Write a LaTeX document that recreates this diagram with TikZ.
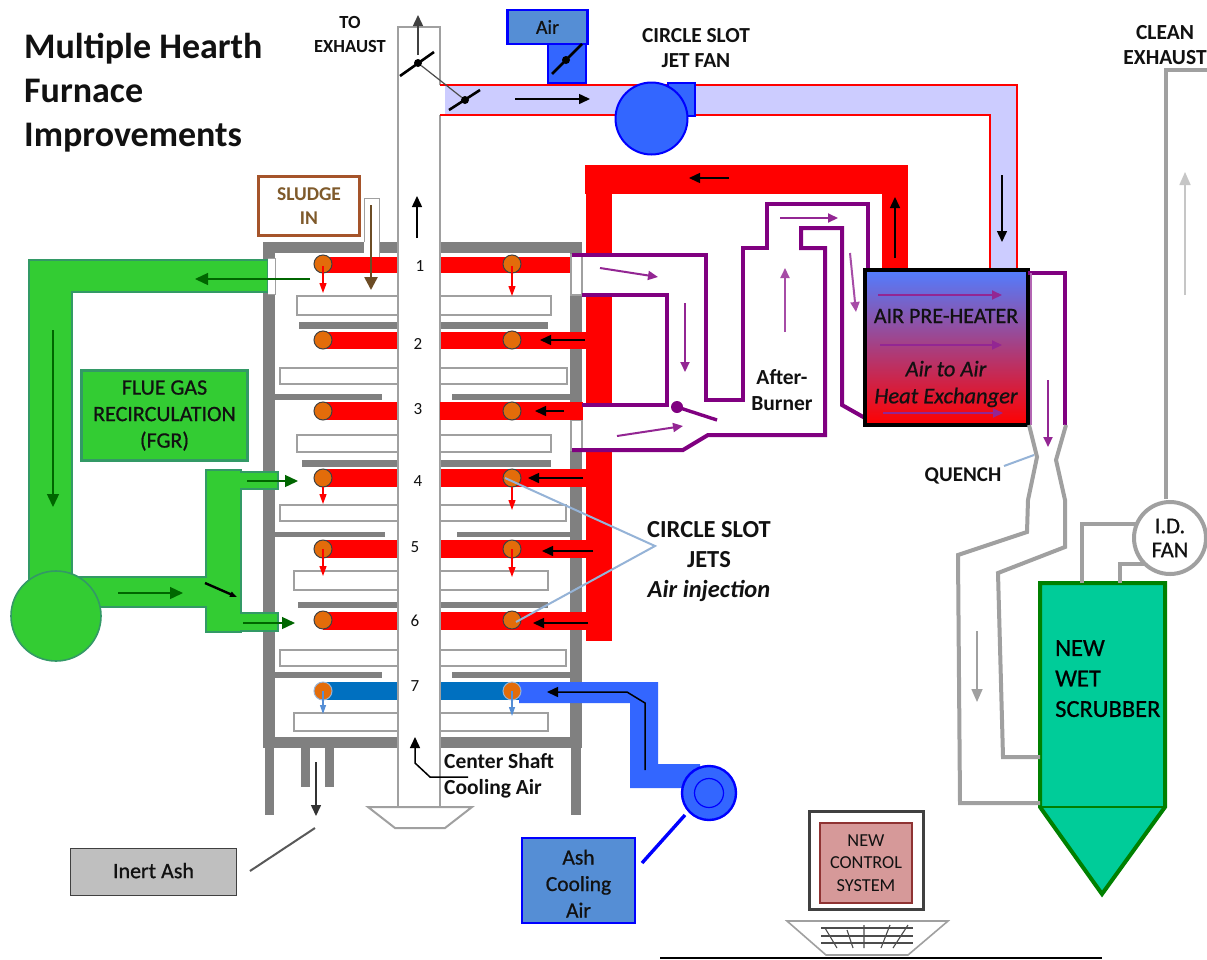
\documentclass[tikz,border=0pt]{standalone}
\usepackage{fontspec}
\setmainfont{Carlito}
\newcommand{\semi}{\addfontfeature{FakeBold=0.7}}
\usetikzlibrary{arrows.meta}
\definecolor{wallgray}{HTML}{808080}
\definecolor{linegray}{HTML}{A0A0A0}
\definecolor{fire}{HTML}{FF0000}
\definecolor{lav}{HTML}{CCCCFF}
\definecolor{purp}{HTML}{800080}
\definecolor{fgr}{HTML}{33CC33}
\definecolor{fgrb}{HTML}{339966}
\definecolor{dgreen}{HTML}{006600}
\definecolor{brightblue}{HTML}{3366FF}
\definecolor{puregblue}{HTML}{0000FF}
\definecolor{boxblue}{HTML}{558ED5}
\definecolor{hearthblue}{HTML}{0070C0}
\definecolor{jet}{HTML}{E36C0A}
\definecolor{leader}{HTML}{95B3D7}
\definecolor{scrub}{HTML}{00CC99}
\definecolor{sgreen}{HTML}{008000}
\definecolor{brownb}{HTML}{A5542A}
\definecolor{brownt}{HTML}{7F5A2B}
\definecolor{ink}{HTML}{111111}
\tikzset{
  wall/.style={fill=wallgray,draw=none},
  plate/.style={fill=white,draw=linegray,line width=1.2pt},
  jetdot/.style={circle,fill=jet,draw=black!75,line width=1pt,minimum size=18pt,inner sep=0pt},
  bk/.style={-{Triangle[length=11pt,width=10pt]},line width=1.5pt,draw=black},
  rd/.style={-{Triangle[length=10pt,width=7pt]},line width=1.2pt,draw=red},
  bl/.style={-{Triangle[length=9pt,width=6pt]},line width=1.2pt,draw=boxblue},
  gr/.style={-{Triangle[length=13pt,width=12pt]},line width=1.4pt,draw=dgreen},
  pu/.style={-{Triangle[length=10pt,width=9pt]},line width=2pt,draw=purp!85},
  pipe/.style={draw=purp,line width=4pt,line join=miter},
  gpipe/.style={draw=linegray,line width=4pt,line join=miter},
  greenduct/.style={fill=fgr,draw=fgrb,line width=1.6pt},
  bluebox/.style={draw=puregblue,line width=2.8pt,fill=boxblue,inner sep=0pt},
  damper/.style={line width=2.6pt,draw=black},
  hub/.style={circle,fill=black,inner sep=0pt,minimum size=8pt},
  lbl/.style={text=ink,align=center,inner sep=0pt},
  lead/.style={draw=leader,line width=2pt}
}
\newcommand{\fsz}[2]{\fontsize{#1}{#2}\selectfont}
\begin{document}
\begin{tikzpicture}[x=1pt,y=-1pt]
\useasboundingbox (0,0) rectangle (1207,959);
\fill[white] (0,0) rectangle (1207,959);

% --- furnace shell
\fill[wall] (263,242) rectangle (582,253);
\fill[wall] (263,242) rectangle (275,748);
\fill[wall] (570,242) rectangle (582,748);
\fill[wall] (263,737) rectangle (582,748);
\fill[wall] (265,748) rectangle (274,815);
\fill[wall] (571,748) rectangle (581,815);
\fill[wall] (301,748) rectangle (310,787);
\fill[wall] (325,748) rectangle (334,787);
% --- baffles
\fill[wall] (299,322) rectangle (548,329);
\fill[wall] (275,394) rectangle (382,400);
\fill[wall] (452,394) rectangle (570,400);
\fill[wall] (302,460) rectangle (551,467);
\fill[wall] (275,532) rectangle (385,537);
\fill[wall] (457,532) rectangle (570,537);
\fill[wall] (298,602) rectangle (548,608);
\fill[wall] (275,672) rectangle (382,678);
\fill[wall] (452,672) rectangle (570,678);
% --- hearth plates
\draw[plate] (297,296) rectangle (551,315);
\draw[plate] (280,368) rectangle (567,384);
\draw[plate] (297,435) rectangle (551,452);
\draw[plate] (280,505) rectangle (566,521);
\draw[plate] (294,571) rectangle (548,590);
\draw[plate] (280,650) rectangle (566,666);
\draw[plate] (294,713) rectangle (548,731);

% --- hot air main
\fill[fire] (585,165) rectangle (908,194);
\fill[fire] (882,165) rectangle (908,272);
\fill[fire] (586,165) rectangle (612,641);
% --- arm bars
\foreach \ya/\yb/\xr in {257/273/570,332/349/586,402/420/583,469/487/590,540/558/596,612/630/590}{
  \fill[fire] (323,\ya) rectangle (398,\yb);
  \fill[fire] (440,\ya) rectangle (\xr,\yb);
}
% --- ash cooling duct
\fill[brightblue] (519,682) -- (658,682) -- (658,764) -- (700,764) -- (700,788) -- (630,788) -- (630,703) -- (519,703) -- cycle;
\fill[hearthblue] (323,682) rectangle (398,700);
\fill[hearthblue] (440,682) rectangle (519,700);

% --- center shaft
\fill[white] (398,27) rectangle (440,806);
\draw[draw=linegray,line width=1.6pt] (440,85) -- (440,27) -- (398,27) -- (398,806);
\draw[draw=linegray,line width=1.6pt] (440,115) -- (440,806);
\draw[fill=white,draw=linegray,line width=2pt] (368,807) -- (472,807) -- (445,828) -- (395,828) -- cycle;

% --- afterburner duct
\fill[white] (572,255) rectangle (706,295);
\fill[white] (667,255) rectangle (706,400);
\fill[white] (572,405) -- (667,405) -- (667,400) -- (825,400) -- (825,435) -- (708,435) -- (683,450) -- (572,450) -- cycle;
\fill[white] (743,248) rectangle (825,435);
\draw[linegray,line width=1.4pt,fill=white] (571,255) rectangle (582,295);
\draw[linegray,line width=1.4pt,fill=white] (571,420) rectangle (582,450);
\fill[fire] (440,402) rectangle (583,420);
\draw[pipe] (572,255) -- (706,255) -- (706,400) -- (743,400) -- (743,248) -- (767,248) -- (767,204) -- (868,204) -- (868,272);
\draw[pipe] (582,295) -- (667,295) -- (667,405) -- (582,405);
\draw[pipe] (865,418) -- (842,405) -- (842,228) -- (801,228) -- (801,248) -- (825,248) -- (825,435) -- (708,435) -- (683,450) -- (572,450);

% --- preheat air duct
\fill[lav] (445,86) -- (1017,86) -- (1017,270) -- (990,270) -- (990,115) -- (445,115) -- cycle;
\draw[red,line width=2.6pt] (440,85) -- (1017,85) -- (1017,270);
\draw[red,line width=2.6pt] (440,115) -- (990,115) -- (990,270);

% --- air pre-heater
\shade[top color=brightblue!85!white,bottom color=red] (865,270) rectangle (1028,425);
\draw[black,line width=3.8pt] (865,270) rectangle (1028,425);
\node[lbl,font=\fsz{22}{24}\semi] (aph) at (946,316) {AIR PRE-HEATER};
\node[lbl,font=\fsz{22.5}{27}\itshape\semi] (hx) at (946,384) {Air to Air\\Heat Exchanger};
\draw[pu] (878,295) -- (1002,295);
\draw[pu] (880,345) -- (1002,345);
\draw[pu] (883,413) -- (1003,413);

% --- purple after HX
\draw[pipe] (1028,273) -- (1065,273) -- (1065,425);
\draw[draw=purp!60,line width=2pt] (1031,273) -- (1031,425);

% --- scrubber
\draw[fill=scrub,draw=sgreen,line width=4pt] (1040,583) -- (1165,583) -- (1165,807) -- (1102,894) -- (1040,807) -- cycle;
\draw[sgreen,line width=2pt] (1040,807) -- (1165,807);
\node[text=black,align=left,anchor=north west,inner sep=0pt,font=\fsz{24.5}{30.5}\semi] (wet) at (1055,640) {NEW\\WET\\SCRUBBER};

% --- quench & gas ducts
\draw[gpipe] (1029,425) -- (1037,457) -- (1028,500) -- (1027,532) -- (958,555) -- (960,803) -- (1040,803);
\draw[gpipe] (1066,425) -- (1056,460) -- (1065,500) -- (1065,547) -- (998,573) -- (1003,757) -- (1040,757);
\draw[gpipe] (1082,583) -- (1082,524) -- (1136,524);
\draw[gpipe] (1120,583) -- (1120,564) -- (1148,564);
\draw[gpipe] (1166,499) -- (1166,70) -- (1207,70);
\node[circle,fill=white,draw=linegray,line width=4pt,minimum size=72pt,inner sep=0pt,text=ink,align=center,font=\fsz{22.5}{24}\semi] (idfan) at (1170,538) {I.D.\\FAN};
\draw[-{Triangle[length=13pt,width=11pt]},draw=linegray,line width=1.6pt] (977,631) -- (977,702);
\draw[-{Triangle[length=13pt,width=11pt]},draw=linegray!60,line width=1.6pt] (1185,295) -- (1185,172);

% --- flue gas recirculation
\draw[greenduct] (29,260) -- (268,260) -- (268,292) -- (72,292) -- (72,590) -- (29,590) -- cycle;
\fill[white] (268,258) rectangle (275,294);
\draw[linegray,line width=.8pt] (268,258) -- (275,258) -- (275,294) -- (268,294);
\draw[greenduct] (72,577) -- (206,577) -- (206,470) -- (241,470) -- (241,632) -- (206,632) -- (206,607) -- (72,607) -- cycle;
\draw[greenduct] (240,472) -- (278,472) -- (278,489) -- (240,489);
\draw[greenduct] (240,613) -- (278,613) -- (278,631) -- (240,631);
\fill[fgr] (236,474) rectangle (242,487);
\fill[fgr] (236,615) rectangle (242,629);
\node[circle,fill=fgr,draw=fgrb,line width=1.6pt,minimum size=90pt,inner sep=0pt] (fgrfan) at (56,616) {};
\node[fill=fgr,draw=fgrb,line width=2.4pt,minimum width=166pt,minimum height=90pt,inner sep=0pt,text=ink,align=center,font=\fsz{22}{26.5}\semi] (fgrbox) at (164.5,415.5) {FLUE GAS\\RECIRCULATION\\(FGR)};
\draw[gr] (310,279) -- (195,279);
\draw[gr] (53,330) -- (53,507);
\draw[gr] (118,593) -- (183,593);
\draw[gr] (247,481) -- (298,481);
\draw[gr] (243,623) -- (295,623);
\draw[-{Triangle[length=7pt,width=5pt]},line width=2.4pt] (205,583) -- (237,597);

% --- jets
\foreach \n/\y in {1/264,2/340,3/411,4/478,5/549,6/620}{
  \node[jetdot] (jl\n) at (323,\y) {};
  \node[jetdot] (jr\n) at (512,\y) {};
}
\node[jetdot,draw=leader] (jl7) at (323,691) {};
\node[jetdot,draw=leader] (jr7) at (512,691) {};
\draw[rd] (323,266) -- (323,293);
\draw[rd] (512,266) -- (512,296);
\draw[rd] (323,487) -- (323,504);
\draw[rd] (512,487) -- (512,510);
\draw[rd] (323,549) -- (323,576);
\draw[rd] (512,549) -- (512,577);
\draw[bl] (323,691) -- (323,714);
\draw[bl] (512,691) -- (512,716);
\foreach \t/\x/\y in {1/420/266,2/418/344,3/418/409,4/418/481,5/415/547,6/415/621,7/415/686}{
  \node[text=ink,font=\fsz{17}{18}] (num\t) at (\x,\y) {\t};
}
\draw[bk] (585,340) -- (540,340);
\draw[bk] (564,411) -- (535,411);
\draw[bk] (583,478) -- (528,478);
\draw[bk] (593,551) -- (542,551);
\draw[bk] (588,623) -- (533,623);
\draw[bk] (729,178) -- (689,178);
\draw[bk] (895,258) -- (895,197);
\draw[bk] (515,99) -- (590,99);
\draw[bk] (1002,175) -- (1002,242);
\draw[bk] (417,238) -- (417,196);
\draw[bk,draw=black!75] (418,55) -- (418,15);
\draw[bk] (645,770) -- (645,703) -- (627,692) -- (547,692);
\draw[bk] (468,777) -- (430,777) -- (415,763) -- (415,737);
\draw[bk,draw=black!80] (316,762) -- (316,816);

% --- purple arrows
\draw[pu] (600,268) -- (658,277);
\draw[pu] (685,303) -- (685,372);
\draw[pu] (617,436) -- (683,426);
\draw[pu,draw=purp!70] (785,332) -- (785,268);
\draw[pu] (780,218) -- (838,218);
\draw[pu,draw=purp!70] (850,253) -- (856,312);
\draw[pu] (1048,380) -- (1048,447);
\draw[purp,line width=3.4pt] (717,420) -- (677,407);
\node[circle,fill=purp,inner sep=0pt,minimum size=12pt] (abdamp) at (677,407) {};

% --- sludge
\node[draw=brownb,line width=3.2pt,fill=white,minimum width=101pt,minimum height=59pt,inner sep=0pt,text=brownt,align=center,font=\fsz{19.5}{24}\bfseries] (sludge) at (309,206) {SLUDGE\\IN};
\fill[white] (364,198) rectangle (379,257);
\draw[linegray,line width=1pt] (364,242) -- (364,198) -- (379,198) -- (379,257);
\draw[-{Triangle[length=13pt,width=13pt]},draw=brownt!85!black,line width=2.6pt] (371,205) -- (371,290);

% --- circle slot fan + dampers
\draw[fill=brightblue,draw=puregblue,line width=1.8pt] (668,83) rectangle (695,116);
\node[circle,fill=brightblue,draw=puregblue,line width=2pt,minimum size=72pt,inner sep=0pt] (slotfan) at (651.5,118.5) {};
\node[bluebox,minimum width=80pt,minimum height=34pt,text=ink,font=\fsz{20}{22}\semi] (airbox) at (547.5,27) {\raisebox{-3pt}{Air}};
\draw[fill=brightblue,draw=puregblue,line width=2pt] (548,44) rectangle (586,83);
\draw[damper] (552,74) -- (582,44);
\node[hub] (d1) at (566,60) {};
\draw[damper] (400,76) -- (434,52);
\draw[damper] (449,110) -- (480,90);
\node[hub] (d2) at (418,63) {};
\node[hub] (d3) at (465,100) {};
\draw[black!70,line width=1.2pt] (d2) -- (d3);

% --- ash cooling fan
\node[circle,fill=brightblue,draw=puregblue,line width=2.4pt,minimum size=54pt,inner sep=0pt] (ashfan) at (709,793) {};
\draw[puregblue,line width=1.2pt] (ashfan.center) circle (14.5);
\node[bluebox,minimum width=113pt,minimum height=85pt,text=ink,align=center,font=\fsz{21.5}{26.5}\semi] (ashbox) at (578.5,880.5) {\rule{0pt}{21pt}Ash\\Cooling\\Air};
\coordinate (ashA) at (642,863);
\coordinate (ashB) at (685,815);
\draw[puregblue,line width=3.4pt] (ashA) -- (ashB);

% --- inert ash
\node[fill=black!25,draw=black!75,line width=1.8pt,minimum width=166pt,minimum height=47pt,inner sep=0pt,text=ink,font=\fsz{22}{24}\semi] (inert) at (153.5,872) {\raisebox{3pt}{Inert Ash}};
\coordinate (inA) at (250,871);
\coordinate (inB) at (315,828);
\draw[black!65,line width=2pt] (inA) -- (inB);

% --- control system
\node[fill=white,draw=black!75,line width=2.6pt,minimum width=114pt,minimum height=98pt,inner sep=0pt] (mon) at (866.5,860.5) {};
\node[fill=red!60!black!40,draw=red!45!black!80,line width=2pt,minimum width=92pt,minimum height=80pt,inner sep=0pt,text=ink,align=center,font=\fsz{18.3}{22.5}] (ctrl) at (866,863) {NEW\\CONTROL\\SYSTEM};
\draw[draw=linegray,line width=1.6pt] (787,921) -- (948,921) -- (908,955) -- (826,955) -- cycle;
\foreach \y in {928,936,943}{\draw[black!70,line width=1.1pt] (821,\y) -- (913,\y);}
\draw[black!70,line width=1.1pt] (825,928) -- (837,948) (847,930) -- (853,948) (864,925) -- (864,948) (890,925) -- (881,948) (908,925) -- (893,948);
\coordinate (baseA) at (660,958);
\coordinate (baseB) at (1102,958);
\draw[black,line width=1.2pt] (baseA) -- (baseB);

% --- leaders
\coordinate (apex) at (655,546);
\draw[lead] (505,478) -- (apex) -- (516,622);
\coordinate (qa) at (1004,466);
\coordinate (qb) at (1034,455);
\draw[lead] (qa) -- (qb);

% --- labels
\node[lbl,anchor=north west,align=left,font=\fsz{36}{44}\bfseries] (title) at (24,33) {Multiple Hearth\\Furnace\\Improvements};
\node[lbl,font=\fsz{18.5}{24}\bfseries] (toex) at (350,34) {TO\\EXHAUST};
\node[lbl,font=\fsz{21.4}{25}\bfseries] (jetfan) at (696,48) {CIRCLE SLOT\\JET FAN};
\node[lbl,font=\fsz{21.5}{24.5}\bfseries] (clean) at (1165,45) {CLEAN\\EXHAUST};
\node[lbl,font=\fsz{21.5}{26}\bfseries] (ab) at (782,390) {After-\\Burner};
\node[lbl,font=\fsz{21}{22}\bfseries] (quench) at (963,476) {QUENCH};
\node[lbl,font=\fsz{24.5}{30}\bfseries] (csj) at (709,562) {CIRCLE SLOT\\JETS\\\textit{Air injection}};
\node[lbl,anchor=north west,align=left,font=\fsz{21.5}{26}\bfseries] (csc) at (444,753) {Center Shaft\\Cooling Air};
\end{tikzpicture}
\end{document}
